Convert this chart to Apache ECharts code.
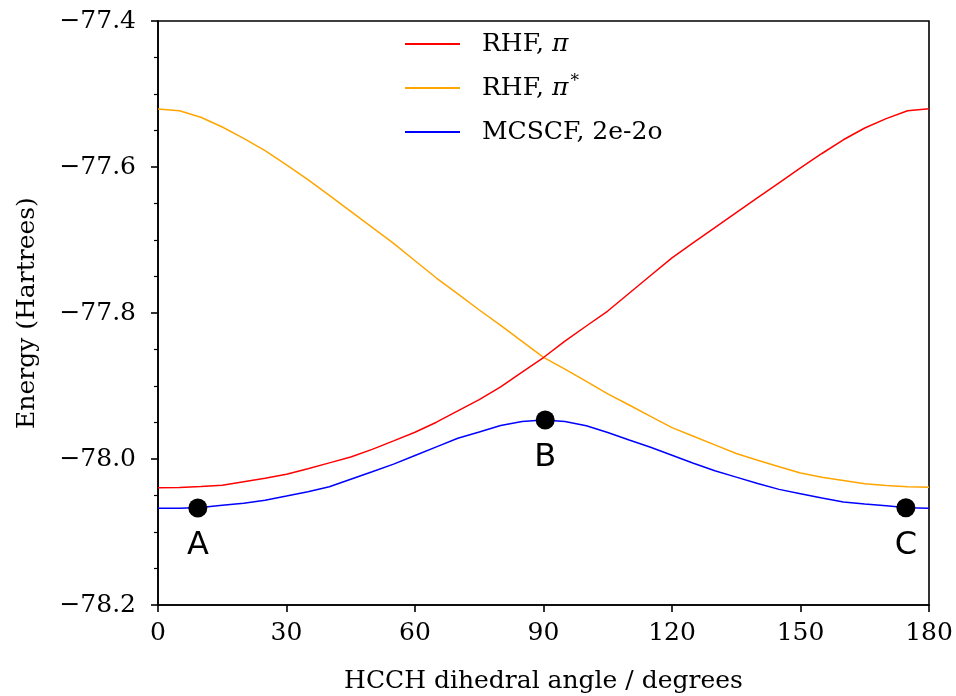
<!DOCTYPE html>
<html>
<head>
<meta charset="utf-8">
<script src="https://cdn.jsdelivr.net/npm/echarts@6/dist/echarts.min.js"></script>
<style>html,body{margin:0;padding:0;background:#fff}#c{width:956px;height:696px}</style>
</head>
<body>
<div id="c"></div>
<script>
const angles = [0,5,10,15,20,25,30,35,40,45,50,55,60,65,70,75,80,85,90,95,100,105,110,115,120,125,130,135,140,145,150,155,160,165,170,175,180];
const rhfPi = [-78.0393,-78.0390,-78.0377,-78.0359,-78.0311,-78.0264,-78.0208,-78.0133,-78.0053,-77.9973,-77.9868,-77.9751,-77.9633,-77.9496,-77.9341,-77.9186,-77.9012,-77.8811,-77.8610,-77.8384,-77.8178,-77.7973,-77.7729,-77.7486,-77.7244,-77.7036,-77.6830,-77.6626,-77.6421,-77.6216,-77.6011,-77.5815,-77.5627,-77.5466,-77.5337,-77.5230,-77.5203];
const rhfPiStar = [-77.5205,-77.5229,-77.5319,-77.5452,-77.5608,-77.5775,-77.5970,-77.6174,-77.6389,-77.6607,-77.6826,-77.7047,-77.7284,-77.7521,-77.7738,-77.7959,-77.8169,-77.8388,-77.8607,-77.8770,-77.8938,-77.9107,-77.9260,-77.9415,-77.9570,-77.9689,-77.9807,-77.9925,-78.0018,-78.0105,-78.0192,-78.0251,-78.0295,-78.0338,-78.0364,-78.0381,-78.0388];
const mcscf = [-78.0675,-78.0673,-78.0664,-78.0634,-78.0605,-78.0564,-78.0507,-78.0448,-78.0379,-78.0277,-78.0175,-78.0070,-77.9952,-77.9834,-77.9716,-77.9629,-77.9541,-77.9486,-77.9466,-77.9486,-77.9544,-77.9638,-77.9740,-77.9840,-77.9949,-78.0059,-78.0160,-78.0248,-78.0336,-78.0416,-78.0475,-78.0534,-78.0589,-78.0616,-78.0641,-78.0667,-78.0675];
const pointLabels = ['A','B','C'];
const pointAngles = [9.3, 90.4, 174.6];
const pointEnergies = [-78.0672, -77.9466, -78.0667];
const seriesNames = ['RHF, π', 'RHF, π*', 'MCSCF, 2e-2o'];
const xTitle = 'HCCH dihedral angle / degrees';
const yTitle = 'Energy (Hartrees)';

const serif = 'DejaVu Serif';
const zip = (xs, ys) => xs.map((x, i) => [x, ys[i]]);

const chart = echarts.init(document.getElementById('c'), null, {renderer: 'canvas'});
chart.setOption({
  animation: false,
  backgroundColor: '#fff',
  grid: {left: 158, right: 27, top: 21, bottom: 91, outerBoundsMode: 'none', containLabel: false, show: true, borderColor: '#000', borderWidth: 1.6, backgroundColor: 'transparent'},
  legend: {
    orient: 'vertical', left: 400, top: 24, itemWidth: 55, itemHeight: 2, itemGap: 14, icon: 'rect',
    data: seriesNames,
    formatter: function (n) {
      if (n === seriesNames[0]) return 'RHF, {i|π}';
      if (n === seriesNames[1]) return 'RHF, {i|π}{s|*}';
      return n;
    },
    textStyle: {
      fontFamily: serif, fontSize: 25, color: '#000', lineHeight: 30, padding: [0, 0, 0, 17],
      rich: {
        i: {fontFamily: serif, fontSize: 25, fontStyle: 'italic', color: '#000', lineHeight: 30},
        s: {fontFamily: serif, fontSize: 17, color: '#000', verticalAlign: 'top', lineHeight: 14, padding: [0, 0, 8, 2]}
      }
    }
  },
  xAxis: {
    type: 'value', min: 0, max: 180, interval: 30,
    name: xTitle, nameLocation: 'middle', nameGap: 64,
    nameTextStyle: {fontFamily: serif, fontSize: 25, color: '#000'},
    axisLine: {lineStyle: {color: '#000', width: 1.6}},
    axisTick: {show: true, length: 7, lineStyle: {color: '#000', width: 1.6}},
    axisLabel: {fontFamily: serif, fontSize: 25, color: '#000', margin: 16},
    splitLine: {show: false}
  },
  yAxis: {
    type: 'value', min: -78.2, max: -77.4, interval: 0.2,
    name: yTitle, nameLocation: 'middle', nameGap: 118, nameRotate: 90,
    nameTextStyle: {fontFamily: serif, fontSize: 25, color: '#000'},
    axisLine: {show: true, lineStyle: {color: '#000', width: 1.6}},
    axisTick: {show: true, length: 7, lineStyle: {color: '#000', width: 1.6}},
    minorTick: {show: true, splitNumber: 4, length: 4, lineStyle: {color: '#000', width: 1.2}},
    axisLabel: {
      fontFamily: serif, fontSize: 25, color: '#000', margin: 22,
      formatter: v => (v < 0 ? '\u2212' : '') + Math.abs(v).toFixed(1)
    },
    splitLine: {show: false}
  },
  series: [
    {name: seriesNames[0], type: 'line', data: zip(angles, rhfPi), symbol: 'none', color: '#ff0000', lineStyle: {width: 1.5, color: '#ff0000'}, z: 3},
    {name: seriesNames[1], type: 'line', data: zip(angles, rhfPiStar), symbol: 'none', color: '#ffa500', lineStyle: {width: 1.5, color: '#ffa500'}, z: 2},
    {name: seriesNames[2], type: 'line', data: zip(angles, mcscf), symbol: 'none', color: '#0000ff', lineStyle: {width: 1.5, color: '#0000ff'}, z: 4},
    {
      name: 'points', type: 'scatter', symbolSize: 19, z: 5,
      itemStyle: {color: '#000', opacity: 1},
      emphasis: {disabled: true},
      data: pointAngles.map((a, i) => ({value: [a, pointEnergies[i]], name: pointLabels[i]})),
      label: {show: true, position: 'bottom', distance: 12, formatter: p => p.name, fontFamily: 'DejaVu Sans', fontSize: 32, color: '#000', opacity: 1}
    }
  ]
});
</script>
</body>
</html>
